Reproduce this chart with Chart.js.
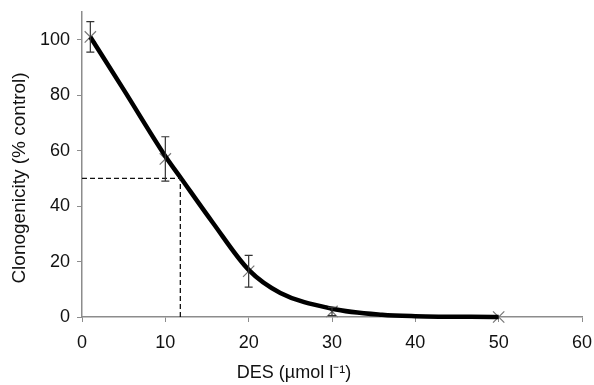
<!DOCTYPE html>
<html>
<head>
<meta charset="utf-8">
<script src="https://cdn.jsdelivr.net/npm/chart.js@4"></script>
<style>
  html, body { margin: 0; padding: 0; background: #fff; }
  #wrap { width: 594px; height: 385px; }
</style>
</head>
<body>
<div id="wrap"><canvas id="myChart"></canvas></div>
<script>
// measured points (DES dose, mean clonogenicity, error)
const doses = [1, 10, 20, 30, 50];
const means = [101, 57, 16.5, 2, 0];
const errors = [5.5, 8, 5.7, 1.5, 0];

// fitted curve
const fitX = [1, 5, 10, 11.8, 15.7, 20, 23.8, 30, 36, 40, 50];
const fitY = [101, 82, 58, 50.4, 34, 17, 8.7, 3, 0.8, 0.3, 0];

// IC50 guide
const ic50 = 11.8;
const halfLevel = 50;

const xTickValues = [0, 10, 20, 30, 40, 50, 60];
const yTickValues = [0, 20, 40, 60, 80, 100];

const axisGrey = '#8c8c8c';
const font = "'Liberation Sans', Arial, sans-serif";

const errorBars = {
  id: 'errorBars',
  afterDatasetsDraw(chart) {
    const x = chart.scales.x, y = chart.scales.y, c = chart.ctx;
    c.save();
    c.strokeStyle = '#333';
    c.lineWidth = 1.2;
    doses.forEach((d, i) => {
      if (!errors[i]) return;
      const px = x.getPixelForValue(d);
      const top = y.getPixelForValue(means[i] + errors[i]);
      const bot = y.getPixelForValue(means[i] - errors[i]);
      c.beginPath();
      c.moveTo(px, top); c.lineTo(px, bot);
      c.moveTo(px - 4, top); c.lineTo(px + 4, top);
      c.moveTo(px - 4, bot); c.lineTo(px + 4, bot);
      c.stroke();
    });
    c.restore();
  }
};

const axisTitles = {
  id: 'axisTitles',
  afterDraw(chart) {
    const c = chart.ctx;
    c.save();
    c.fillStyle = '#111';
    c.textAlign = 'center';
    c.textBaseline = 'middle';
    c.font = '18px ' + font;
    c.fillText('DES (µmol l\u207B\u00B9)', 294, 373);
    c.font = '19px ' + font;
    c.translate(20, 178);
    c.rotate(-Math.PI / 2);
    c.fillText('Clonogenicity (% control)', 0, 0);
    c.restore();
  }
};

const ctx = document.getElementById('myChart');

new Chart(ctx, {
  type: 'scatter',
  data: {
    datasets: [{
      label: 'IC50',
      data: [{x: 0, y: halfLevel}, {x: ic50, y: halfLevel}, {x: ic50, y: 0}],
      showLine: true,
      borderColor: '#111',
      borderWidth: 1.3,
      borderDash: [5, 3],
      pointRadius: 0
    },
    {
      label: 'Fit',
      data: fitX.map((v, i) => ({x: v, y: fitY[i]})),
      showLine: true,
      borderColor: '#000',
      borderWidth: 4.5,
      cubicInterpolationMode: 'monotone',
      pointRadius: 0,
      clip: false
    },
    {
      label: 'Measured',
      data: doses.map((v, i) => ({x: v, y: means[i]})),
      showLine: false,
      pointStyle: 'crossRot',
      pointRadius: 8,
      borderColor: '#777',
      borderWidth: 1.2,
      clip: false
    }]
  },
  options: {
    responsive: true,
    maintainAspectRatio: false,
    animation: false,
    layout: { padding: { top: 12, right: 12, left: 0, bottom: 0 } },
    plugins: {
      legend: { display: false },
      tooltip: { enabled: false }
    },
    scales: {
      x: {
        type: 'linear',
        min: 0,
        max: 60,
        afterBuildTicks: s => { s.ticks = xTickValues.map(v => ({value: v})); },
        afterFit: s => { s.height = 68; s.paddingLeft = 0; s.paddingRight = 0; },
        ticks: { color: '#111', font: { family: font, size: 18 }, padding: 10 },
        grid: { drawOnChartArea: false, color: axisGrey, tickLength: 5 },
        border: { color: axisGrey, width: 1.5 }
      },
      y: {
        min: 0,
        max: 110,
        afterBuildTicks: s => { s.ticks = yTickValues.map(v => ({value: v})); },
        afterFit: s => { s.width = 82; s.paddingTop = 0; s.paddingBottom = 0; },
        ticks: { color: '#111', font: { family: font, size: 18 }, padding: 7 },
        grid: { drawOnChartArea: false, color: axisGrey, tickLength: 5 },
        border: { color: axisGrey, width: 1.5 }
      }
    }
  },
  plugins: [errorBars, axisTitles]
});
</script>
</body>
</html>
